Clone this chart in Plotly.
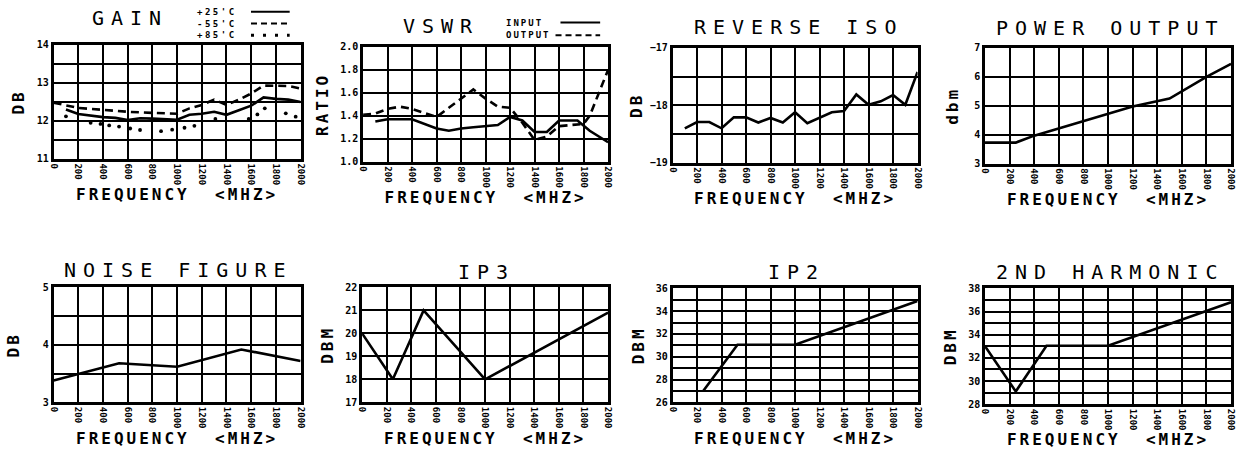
import plotly.graph_objects as go

W, H = 1238, 457

# ---------------- data ----------------
freq_ticks = [0, 200, 400, 600, 800, 1000, 1200, 1400, 1600, 1800, 2000]

gain_25_f = [100, 200, 400, 500, 600, 700, 800, 900, 1000, 1100, 1200, 1300, 1400, 1500, 1600, 1700, 1800, 1900, 2000]
gain_25_v = [12.30, 12.18, 12.10, 12.08, 12.02, 12.07, 12.06, 12.04, 12.03, 12.16, 12.19, 12.24, 12.16, 12.28, 12.40, 12.62, 12.58, 12.56, 12.50]
gain_m55_f = [0, 100, 200, 400, 600, 800, 1000, 1100, 1200, 1300, 1400, 1500, 1600, 1700, 1800, 1900, 2000]
gain_m55_v = [12.48, 12.40, 12.34, 12.29, 12.24, 12.21, 12.19, 12.33, 12.42, 12.56, 12.42, 12.56, 12.72, 12.93, 12.93, 12.92, 12.85]
gain_85_f = [100, 300, 380, 450, 530, 620, 700, 870, 960, 1060, 1140, 1310, 1580, 1650, 1710, 1880, 1960]
gain_85_v = [12.12, 11.95, 11.92, 11.88, 11.85, 11.80, 11.76, 11.73, 11.77, 11.82, 11.87, 12.05, 12.05, 12.17, 12.33, 12.20, 12.11]

vswr_in_f = [100, 200, 400, 600, 700, 800, 900, 1100, 1200, 1300, 1400, 1500, 1600, 1750, 1850, 2000]
vswr_in_v = [1.35, 1.37, 1.37, 1.29, 1.27, 1.29, 1.30, 1.32, 1.39, 1.36, 1.26, 1.26, 1.36, 1.36, 1.27, 1.17]
vswr_out_f = [0, 100, 200, 300, 400, 600, 700, 900, 1000, 1100, 1200, 1300, 1400, 1500, 1600, 1700, 1800, 1850, 2000]
vswr_out_v = [1.41, 1.42, 1.46, 1.48, 1.46, 1.39, 1.47, 1.63, 1.55, 1.48, 1.47, 1.34, 1.19, 1.22, 1.31, 1.32, 1.33, 1.40, 1.80]

riso_f = [100, 200, 300, 400, 500, 600, 700, 800, 900, 1000, 1100, 1200, 1300, 1400, 1500, 1600, 1700, 1800, 1900, 2000]
riso_v = [-18.40, -18.29, -18.29, -18.40, -18.21, -18.21, -18.30, -18.22, -18.30, -18.12, -18.31, -18.21, -18.12, -18.10, -17.81, -17.99, -17.93, -17.82, -17.99, -17.42]

pout_f = [0, 250, 400, 1200, 1500, 1800, 2000]
pout_v = [3.73, 3.73, 3.97, 4.98, 5.25, 6.00, 6.45]

nf_f = [0, 530, 1000, 1520, 2000]
nf_v = [3.38, 3.68, 3.62, 3.92, 3.72]

ip3_f = [0, 250, 500, 1000, 2000]
ip3_v = [20.0, 18.0, 21.0, 18.0, 20.9]

ip2_f = [250, 530, 1000, 2000]
ip2_v = [27.0, 31.05, 31.05, 34.9]

h2_f = [0, 250, 500, 1000, 2000]
h2_v = [33.0, 29.1, 33.05, 33.05, 36.8]

titles = ["GAIN", "VSWR", "REVERSE ISO", "POWER OUTPUT", "NOISE FIGURE", "IP3", "IP2", "2ND HARMONIC"]
ytitles = ["DB", "RATIO", "DB", "dbm", "DB", "DBM", "DBM", "DBM"]
xtitle = "FREQUENCY  &lt;MHZ&gt;"
gain_legend = ["+25'C", "-55'C", "+85'C"]
vswr_legend = ["INPUT", "OUTPUT"]

# ---------------- layout geometry (pixels) ----------------
boxes = [
    (49, 298, 40, 157),
    (361, 608, 42, 160),
    (673, 920, 43, 161),
    (988, 1236, 43, 162),
    (49, 298, 289, 407),
    (360, 608, 289, 407),
    (673, 920, 290, 407),
    (988, 1236, 290, 409),
]
# (range, major dtick, minor dtick, tickformat)
yspecs = [
    ([11, 14], 1, 0.5, "d"),
    ([1.0, 2.0], 0.2, 0.2, ".1f"),
    ([-19, -17], 1, 0.5, "d"),
    ([3, 7], 1, 1, "d"),
    ([3, 5], 1, 0.5, "d"),
    ([17, 22], 1, 1, "d"),
    ([26, 36], 2, 1, "d"),
    ([28, 38], 2, 1, "d"),
]
ystandoff = [9, 8, 4, 12, 20, 8, 8, 8]
title_pos = [(126, 12), (440, 21), (800, 22), (1114, 23),
             (175, 271), (485, 273), (798, 273), (1114, 273)]

FONT = "DejaVu Sans Mono"


def px_x(x):
    return x / W


def px_y(y):
    return 1 - y / H


def spaced(t, ls):
    return f'<span style="letter-spacing:{ls}px">{t}</span>'


fig = go.Figure()

line_style = dict(color="black", width=2.6)
dash_style = dict(color="black", width=2.6, dash="8px,5px")

series = [
    (1, gain_25_f, gain_25_v, "lines", line_style),
    (1, gain_m55_f, gain_m55_v, "lines", dash_style),
    (1, gain_85_f, gain_85_v, "markers", None),
    (2, vswr_in_f, vswr_in_v, "lines", line_style),
    (2, vswr_out_f, vswr_out_v, "lines", dash_style),
    (3, riso_f, riso_v, "lines", line_style),
    (4, pout_f, pout_v, "lines", line_style),
    (5, nf_f, nf_v, "lines", line_style),
    (6, ip3_f, ip3_v, "lines", line_style),
    (7, ip2_f, ip2_v, "lines", line_style),
    (8, h2_f, h2_v, "lines", line_style),
]
for k, fx, fy, mode, ls in series:
    sfx = "" if k == 1 else str(k)
    tr = dict(x=fx, y=fy, mode=mode, xaxis="x" + sfx, yaxis="y" + sfx,
              hoverinfo="x+y", showlegend=False, cliponaxis=False)
    if mode == "lines":
        tr["line"] = ls
    else:
        tr["marker"] = dict(color="black", size=3.8, symbol="circle")
    fig.add_trace(go.Scatter(**tr))

layout = {}
for i, (box, ys) in enumerate(zip(boxes, yspecs)):
    k = i + 1
    sfx = "" if k == 1 else str(k)
    x0, x1, y0, y1 = box
    yr, dt, mdt, fmt = ys
    layout["xaxis" + sfx] = dict(
        domain=[px_x(x0), px_x(x1)], anchor="y" + sfx,
        range=[0, 2000], tickmode="array", tickvals=freq_ticks,
        ticktext=[str(v) for v in freq_ticks],
        tickangle=90, ticks="", showgrid=True, gridcolor="black", gridwidth=2,
        showline=True, linecolor="black", linewidth=2.5, mirror=True, zeroline=False,
        tickfont=dict(family=FONT, size=9, weight="bold", color="black"),
        title=dict(text=spaced(xtitle, 3), standoff=3,
                   font=dict(family=FONT, size=16, weight="bold", color="black")),
    )
    layout["yaxis" + sfx] = dict(
        domain=[px_y(y1), px_y(y0)], anchor="x" + sfx,
        range=yr, dtick=dt, tick0=yr[0], tickformat=fmt, ticks="",
        showgrid=True, gridcolor="black", gridwidth=2,
        minor=dict(dtick=mdt, tick0=yr[0], showgrid=True, gridcolor="black", gridwidth=2),
        showline=True, linecolor="black", linewidth=2.5, mirror=True, zeroline=False,
        tickfont=dict(family=FONT, size=10, weight="bold", color="black"),
        title=dict(text=spaced(ytitles[i], 3), standoff=ystandoff[i],
                   font=dict(family=FONT, size=16, weight="bold", color="black")),
    )

annotations = []
for t, (cx, cy) in zip(titles, title_pos):
    annotations.append(dict(
        text=spaced(t, 7), x=px_x(cx), y=px_y(cy), xref="paper", yref="paper",
        xanchor="center", yanchor="middle", showarrow=False,
        font=dict(family=FONT, size=20, color="black")))

# gain legend
for t, yy in zip(gain_legend, [6, 18, 30]):
    annotations.append(dict(
        text=spaced(t, 2.5), x=px_x(236), y=px_y(yy), xref="paper", yref="paper",
        xanchor="right", yanchor="middle", showarrow=False,
        font=dict(family=FONT, size=9, weight="bold", color="black")))
# vswr legend
for t, yy in zip(vswr_legend, [17, 30]):
    annotations.append(dict(
        text=spaced(t, 2), x=px_x(503), y=px_y(yy), xref="paper", yref="paper",
        xanchor="left", yanchor="middle", showarrow=False,
        font=dict(family=FONT, size=9, weight="bold", color="black")))

shapes = [
    dict(type="line", xref="paper", yref="paper", x0=px_x(248), x1=px_x(287),
         y0=px_y(6), y1=px_y(6), line=dict(color="black", width=2)),
    dict(type="line", xref="paper", yref="paper", x0=px_x(248), x1=px_x(287),
         y0=px_y(18), y1=px_y(18), line=dict(color="black", width=2, dash="6px,4px")),
    dict(type="line", xref="paper", yref="paper", x0=px_x(248), x1=px_x(287),
         y0=px_y(30), y1=px_y(30), line=dict(color="black", width=3, dash="3px,9px")),
    dict(type="line", xref="paper", yref="paper", x0=px_x(560), x1=px_x(600),
         y0=px_y(17), y1=px_y(17), line=dict(color="black", width=2)),
    dict(type="line", xref="paper", yref="paper", x0=px_x(555), x1=px_x(600),
         y0=px_y(30), y1=px_y(30), line=dict(color="black", width=2, dash="6px,4px")),
]

fig.update_layout(
    width=W, height=H, margin=dict(l=0, r=0, t=0, b=0),
    paper_bgcolor="white", plot_bgcolor="white", showlegend=False,
    font=dict(family=FONT, color="black"),
    annotations=annotations, shapes=shapes, **layout)

fig.write_html("out.html", config={"displayModeBar": False},
               post_script="document.body.style.margin='0';document.body.style.overflow='hidden';")
